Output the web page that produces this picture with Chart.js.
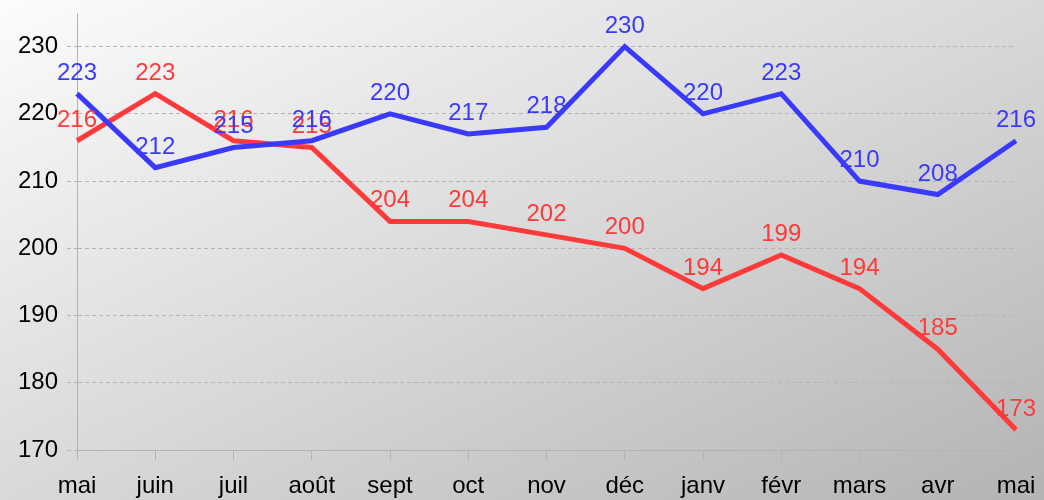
<!DOCTYPE html>
<html>
<head>
<meta charset="utf-8">
<script src="https://cdn.jsdelivr.net/npm/chart.js@4/dist/chart.umd.min.js"></script>
<style>
    html, body { margin: 0; padding: 0; }
    #wrap {
        width: 1044px; height: 500px;
        background: linear-gradient(to bottom right, #fcfcfc, #d9d9d9 50%, #b3b3b3);
    }
</style>
</head>
<body>
<div id="wrap"><canvas id="lineChart" width="1044" height="500"></canvas></div>
<script>
var months = ['mai', 'juin', 'juil', 'août', 'sept', 'oct', 'nov', 'déc', 'janv', 'févr', 'mars', 'avr', 'mai'];
var blueValues = [223, 212, 215, 216, 220, 217, 218, 230, 220, 223, 210, 208, 216];
var redValues = [216, 223, 216, 215, 204, 204, 202, 200, 194, 199, 194, 185, 173];
var yTicks = [170, 180, 190, 200, 210, 220, 230];

var FONT = '"Liberation Sans", Arial, sans-serif';

// value labels above each point (red first so blue ends on top)
var valueLabels = {
    id: 'valueLabels',
    afterDatasetsDraw: function(chart) {
        var ctx = chart.ctx;
        ctx.save();
        ctx.font = '24px ' + FONT;
        ctx.textAlign = 'center';
        ctx.textBaseline = 'alphabetic';
        for (var i = chart.data.datasets.length - 1; i >= 0; i--) {
            var ds = chart.data.datasets[i];
            var meta = chart.getDatasetMeta(i);
            ctx.fillStyle = ds.borderColor;
            meta.data.forEach(function(pt, j) {
                ctx.fillText(ds.data[j], pt.x, pt.y - 14);
            });
        }
        ctx.restore();
    }
};

var ctx = document.getElementById('lineChart').getContext('2d');
var chart = new Chart(ctx, {
    type: 'line',
    data: {
        labels: months,
        datasets: [
            {
                label: 'bleu',
                data: blueValues,
                borderColor: '#3a3aff',
                borderWidth: 5,
                pointRadius: 0,
                tension: 0,
                borderJoinStyle: 'miter',
                fill: false
            },
            {
                label: 'rouge',
                data: redValues,
                borderColor: '#ff3a3a',
                borderWidth: 5,
                pointRadius: 0,
                tension: 0,
                borderJoinStyle: 'miter',
                fill: false
            }
        ]
    },
    plugins: [valueLabels],
    options: {
        responsive: false,
        animation: false,
        layout: { padding: { top: 13, right: 28, left: 0, bottom: 0 } },
        plugins: {
            legend: { display: false },
            tooltip: { enabled: false }
        },
        scales: {
            x: {
                offset: false,
                grid: { drawOnChartArea: false, drawTicks: true, tickLength: 10, color: '#b3b3b3' },
                border: { color: '#b3b3b3', width: 1 },
                ticks: { color: '#000', font: { family: FONT, size: 24 }, padding: 12, maxRotation: 0, autoSkip: false },
                afterFit: function(scale) {
                    scale.height = 50;
                    scale.paddingLeft = 0;
                    scale.paddingRight = 0;
                }
            },
            y: {
                min: 170,
                max: 235,
                afterBuildTicks: function(scale) {
                    scale.ticks = yTicks.map(function(v) { return { value: v }; });
                },
                grid: { color: '#b5b5b5', tickLength: 10, tickBorderDash: [4, 3], drawTicks: true },
                border: { color: '#b3b3b3', width: 1, dash: [4, 3] },
                ticks: { color: '#000', font: { family: FONT, size: 24 }, padding: 9 },
                afterFit: function(scale) {
                    scale.width = 77;
                    scale.paddingTop = 0;
                    scale.paddingBottom = 0;
                }
            }
        }
    }
});
</script>
</body>
</html>
